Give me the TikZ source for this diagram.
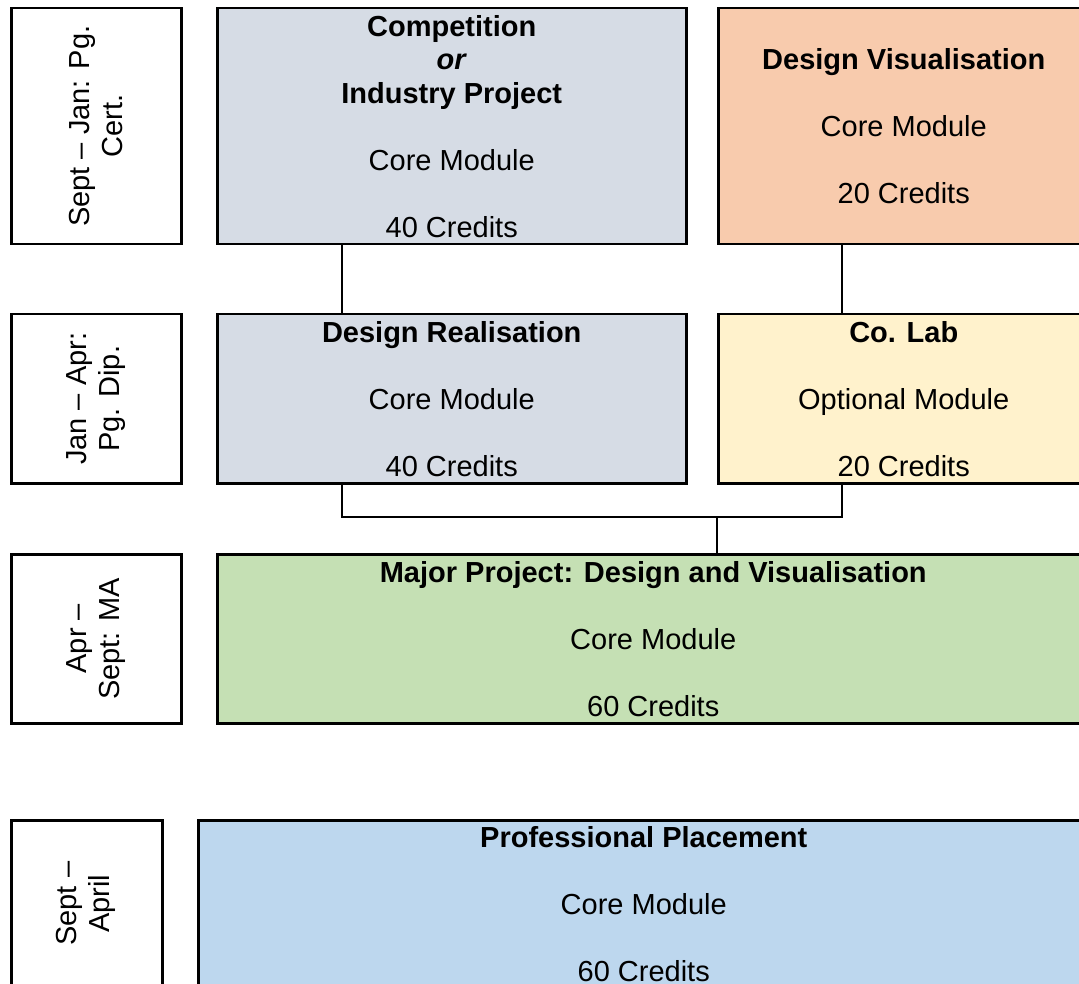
\documentclass[tikz,border=0pt]{standalone}
\usepackage{fontspec}
\setmainfont{Liberation Sans}
\definecolor{cgrey}{HTML}{D6DCE5}
\definecolor{corange}{HTML}{F8CBAD}
\definecolor{cyellow}{HTML}{FFF2CC}
\definecolor{cgreen}{HTML}{C5E0B4}
\definecolor{cblue}{HTML}{BDD7EE}
\begin{document}
\begin{tikzpicture}[x=1pt,y=-1pt,
  box/.style={draw=black, line width=2.5pt, rectangle, anchor=north west, align=center, inner sep=0pt,
     font=\fontsize{29}{33.5}\selectfont},
  txt/.style={align=center, inner sep=0pt, font=\fontsize{29}{33.5}\selectfont},
  lbl/.style={rotate=90, align=center, inner sep=0pt, font=\fontsize{29}{33.5}\selectfont},
  conn/.style={draw=black, line width=2pt}]
\useasboundingbox (0,0) rectangle (1079,984);
\clip (0,0) rectangle (1079,984);
% left labels
\node[box, minimum width=170pt, minimum height=236pt] (l1) at (10,7) {};
\node[lbl] (t1) at (l1.center) {Sept – Jan: Pg.\\Cert.};
\node[box, minimum width=170pt, minimum height=169pt] (l2) at (10,313) {};
\node[lbl] (t2) at (l2.center) {Jan – Apr:\\Pg. Dip.};
\node[box, minimum width=170pt, minimum height=169pt] (l3) at (10,553) {};
\node[lbl] (t3) at (l3.center) {Apr –\\Sept: MA};
\node[box, minimum width=151pt, minimum height=171pt] (l4) at (10,819) {};
\node[lbl] (t4) at ([xshift=-1pt,yshift=2pt]l4.center) {Sept –\\April};
% main boxes
\node[box, fill=cgrey, minimum width=469pt, minimum height=236pt] (comp) at (216,7)
  {\textbf{Competition}\\\textbf{\textit{or}}\\\textbf{Industry Project}\\[33.5pt]Core Module\\[33.5pt]40 Credits};
\node[box, fill=corange, minimum width=371pt, minimum height=236pt] (vis) at (717,7)
  {\textbf{Design Visualisation}\\[33.5pt]Core Module\\[33.5pt]20 Credits};
\node[box, fill=cgrey, minimum width=469pt, minimum height=169pt] (real) at (216,313)
  {\textbf{Design Realisation}\\[33.5pt]Core Module\\[33.5pt]40 Credits};
\node[box, fill=cyellow, minimum width=371pt, minimum height=169pt] (colab) at (717,313)
  {\textbf{Co. Lab}\\[33.5pt]Optional Module\\[33.5pt]20 Credits};
\node[box, fill=cgreen, minimum width=872pt, minimum height=169pt] (major) at (216,553)
  {\textbf{Major Project: Design and Visualisation}\\[33.5pt]Core Module\\[33.5pt]60 Credits};
\node[box, fill=cblue, minimum width=891pt, minimum height=175pt] (place) at (197,819) {};
\node[txt] (placetxt) at ([yshift=4pt]place.center)
  {\textbf{Professional Placement}\\[33.5pt]Core Module\\[33.5pt]60 Credits};
% connectors
\coordinate (xL) at (342,0);
\coordinate (xR) at (842,0);
\coordinate (j) at (717,517);
\draw[conn] (comp.south -| xL) -- (real.north -| xL);
\draw[conn] (vis.south -| xR) -- (colab.north -| xR);
\draw[conn] (real.south -| xL) |- (j) -| (colab.south -| xR);
\draw[conn] (j) -- (major.north -| j);
\end{tikzpicture}
\end{document}
